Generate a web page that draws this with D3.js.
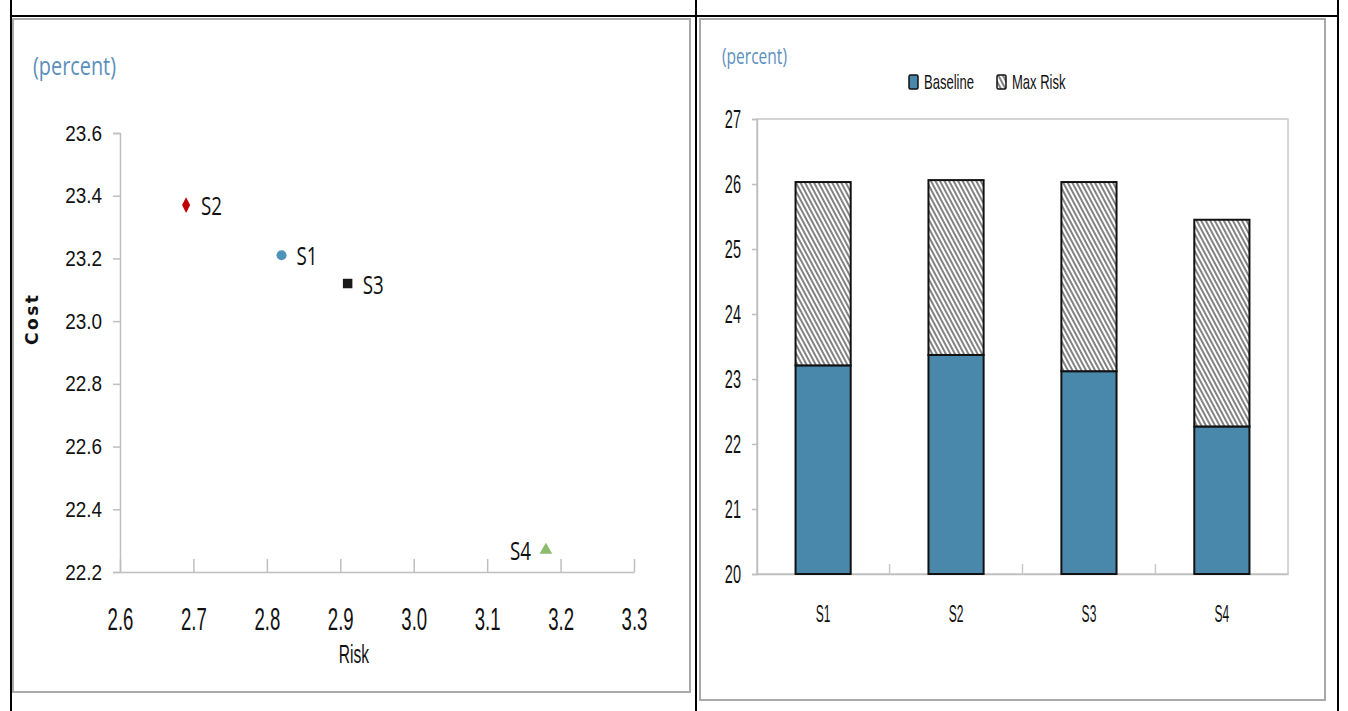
<!DOCTYPE html>
<html lang="en">
<head>
<meta charset="utf-8">
<title>Cost vs Risk</title>
<script src="https://cdn.jsdelivr.net/npm/d3@7"></script>
<style>
  body { margin: 0; background: #fff; }
  .narrow { font-family: "Liberation Sans", Arial, sans-serif; }
  .axis path, .axis line { stroke: #bfbfbf; stroke-width: 1.5; }
</style>
</head>
<body>
<div id="vizContainer"></div>
<script>
// ---- data ----
var scenarios = ["S1", "S2", "S3", "S4"];
var risk = [2.82, 2.69, 2.91, 3.18];   // x of scatter, also the Max Risk add-on
var cost = [23.21, 23.37, 23.12, 22.27]; // y of scatter, also Baseline bar
var scatterColors = ["#4f93bb", "#c00000", "#1a1a1a", "#8cbb6c"];
var scatterShapes = [d3.symbolCircle, d3.symbolDiamond, d3.symbolSquare, d3.symbolTriangle];
var xTicksLeft = [2.6, 2.7, 2.8, 2.9, 3.0, 3.1, 3.2, 3.3];
var yTicksLeft = [22.2, 22.4, 22.6, 22.8, 23.0, 23.2, 23.4, 23.6];
var yTicksRight = [20, 21, 22, 23, 24, 25, 26, 27];
var legendNames = ["Baseline", "Max Risk"];

var width = 1348, height = 711;
var svg = d3.select("#vizContainer").append("svg")
  .attr("width", width).attr("height", height);

// squeeze text horizontally (no condensed font installed)
function squeeze(sel, f){
  sel.each(function(){
    var w = this.getComputedTextLength();
    d3.select(this).attr("textLength", w * f).attr("lengthAdjust", "spacingAndGlyphs");
  });
}

// hatch pattern for the max risk part
var defs = svg.append("defs");
var pat = defs.append("pattern").attr("id", "hatch")
  .attr("patternUnits", "userSpaceOnUse").attr("width", 4).attr("height", 4)
  .attr("patternTransform", "rotate(-28)");
pat.append("rect").attr("width", 4).attr("height", 4).attr("fill", "#fff");
pat.append("line").attr("x1", 1).attr("y1", 0).attr("x2", 1).attr("y2", 4)
  .attr("stroke", "#4d4d4d").attr("stroke-width", 1.4);

// ---- frame: table lines and panel boxes ----
svg.append("rect").attr("x", 13).attr("y", 19).attr("width", 677).attr("height", 673)
  .attr("fill", "none").attr("stroke", "#a9a9a9").attr("stroke-width", 2);
svg.append("rect").attr("x", 700).attr("y", 19).attr("width", 625).attr("height", 681)
  .attr("fill", "none").attr("stroke", "#a9a9a9").attr("stroke-width", 2);
[[11, 0, 11, 711], [696, 0, 696, 711], [1338, 0, 1338, 711], [11, 16, 1338, 16]].forEach(function(l){
  svg.append("line").attr("x1", l[0]).attr("y1", l[1]).attr("x2", l[2]).attr("y2", l[3])
    .attr("stroke", "#000").attr("stroke-width", 2);
});

// ---- left panel: scatter ----
var xL = d3.scaleLinear().domain([2.6, 3.3]).range([120, 634]);
var yL = d3.scaleLinear().domain([22.2, 23.6]).range([572, 133]);

svg.append("text").attr("x", 33).attr("y", 75).text("(percent)")
  .attr("font-family", "Open Sans, sans-serif").attr("font-size", 25).attr("fill", "#5b8fbb")
  .attr("textLength", 83).attr("lengthAdjust", "spacingAndGlyphs");

var gyL = svg.append("g").attr("class", "axis narrow").attr("transform", "translate(120,0)")
  .call(d3.axisLeft(yL).tickValues(yTicksLeft).tickFormat(d3.format(".1f")).tickSize(7).tickPadding(11));
gyL.selectAll("text").attr("font-size", 22).attr("fill", "#111").call(squeeze, 0.86);

var gxL = svg.append("g").attr("class", "axis narrow").attr("transform", "translate(0,572)")
  .call(d3.axisBottom(xL).tickValues(xTicksLeft).tickFormat(d3.format(".1f")).tickSizeInner(-13).tickSizeOuter(0).tickPadding(36));
gxL.selectAll("text").attr("font-size", 31).attr("fill", "#111").call(squeeze, 0.6);

svg.append("text").attr("class", "narrow").attr("x", 354).attr("y", 663).attr("text-anchor", "middle")
  .attr("font-size", 26).attr("fill", "#111").text("Risk").call(squeeze, 0.6);
svg.append("text").attr("transform", "translate(38,320) rotate(-90)").attr("text-anchor", "middle")
  .attr("font-family", "DejaVu Sans, sans-serif").attr("font-weight", "bold")
  .attr("font-size", 17).attr("fill", "#111").text("Cost")
  .attr("textLength", 50).attr("lengthAdjust", "spacing");

var pts = svg.selectAll(".pt").data(scenarios).enter().append("g")
  .attr("transform", function(d, i){ return "translate(" + xL(risk[i]) + "," + yL(cost[i]) + ")"; });
pts.append("path")
  .attr("d", function(d, i){
    var sz = [80, 70, 90, 70][i];
    return d3.symbol().type(scatterShapes[i]).size(sz)();
  })
  .attr("transform", function(d, i){ return i === 1 ? "scale(0.9,1)" : null; })
  .attr("fill", function(d, i){ return scatterColors[i]; });
pts.append("text")
  .attr("x", function(d, i){ return i === 3 ? -15 : 15; })
  .attr("y", 10)
  .attr("text-anchor", function(d, i){ return i === 3 ? "end" : "start"; })
  .attr("font-family", "Open Sans, sans-serif").attr("font-size", 26).attr("fill", "#111")
  .text(function(d){ return d; })
  .attr("textLength", 21).attr("lengthAdjust", "spacingAndGlyphs");

// ---- right panel: stacked bars ----
var xR = d3.scaleBand().domain(scenarios).range([757, 1288]).paddingInner(0.585).paddingOuter(0.29);
var yR = d3.scaleLinear().domain([20, 27]).range([574, 119]);

svg.append("text").attr("x", 722).attr("y", 64).text("(percent)")
  .attr("font-family", "Open Sans, sans-serif").attr("font-size", 21).attr("fill", "#5b8fbb")
  .attr("textLength", 65).attr("lengthAdjust", "spacingAndGlyphs");

// plot frame
svg.append("rect").attr("x", 757).attr("y", yR(27)).attr("width", 1288 - 757).attr("height", yR(20) - yR(27))
  .attr("fill", "none").attr("stroke", "#c8c8c8").attr("stroke-width", 1.5);

var gyR = svg.append("g").attr("class", "axis narrow").attr("transform", "translate(757,0)")
  .call(d3.axisLeft(yR).tickValues(yTicksRight).tickFormat(d3.format("d")).tickSize(5).tickPadding(11));
gyR.selectAll("text").attr("font-size", 25).attr("fill", "#111").call(squeeze, 0.58);

var gxR = svg.append("g").attr("class", "axis narrow").attr("transform", "translate(0,574)")
  .call(d3.axisBottom(xR).tickSize(0).tickPadding(31));
gxR.selectAll("text").attr("font-size", 24).attr("fill", "#111").call(squeeze, 0.5);
// category boundary ticks
d3.range(1, scenarios.length).forEach(function(i){
  var bx = xR(scenarios[i]) - xR.step() * xR.paddingInner() / 2;
  svg.append("line").attr("x1", bx).attr("x2", bx).attr("y1", 574).attr("y2", 564)
    .attr("stroke", "#c8c8c8").attr("stroke-width", 1.5);
});

var bars = svg.selectAll(".bar").data(scenarios).enter().append("g");
bars.append("rect")
  .attr("x", function(d){ return xR(d); })
  .attr("y", function(d, i){ return yR(cost[i]); })
  .attr("width", xR.bandwidth())
  .attr("height", function(d, i){ return yR(20) - yR(cost[i]); })
  .attr("fill", "#4a88ab").attr("stroke", "#111").attr("stroke-width", 2);
bars.append("rect")
  .attr("x", function(d){ return xR(d); })
  .attr("y", function(d, i){ return yR(cost[i] + risk[i]); })
  .attr("width", xR.bandwidth())
  .attr("height", function(d, i){ return yR(cost[i]) - yR(cost[i] + risk[i]); })
  .attr("fill", "url(#hatch)").attr("stroke", "#111").attr("stroke-width", 2);

// legend
var leg = svg.selectAll(".leg").data(legendNames).enter().append("g")
  .attr("transform", function(d, i){ return "translate(" + (909 + i * 88) + ",75)"; });
leg.append("rect").attr("width", 9).attr("height", 14).attr("rx", 1.5)
  .attr("fill", function(d, i){ return i === 0 ? "#4a88ab" : "url(#hatch)"; })
  .attr("stroke", "#111").attr("stroke-width", 1.5);
leg.append("text").attr("class", "narrow").attr("x", 15).attr("y", 14)
  .attr("font-size", 21).attr("fill", "#111").text(function(d){ return d; })
  .call(squeeze, 0.62);
</script>
</body>
</html>
